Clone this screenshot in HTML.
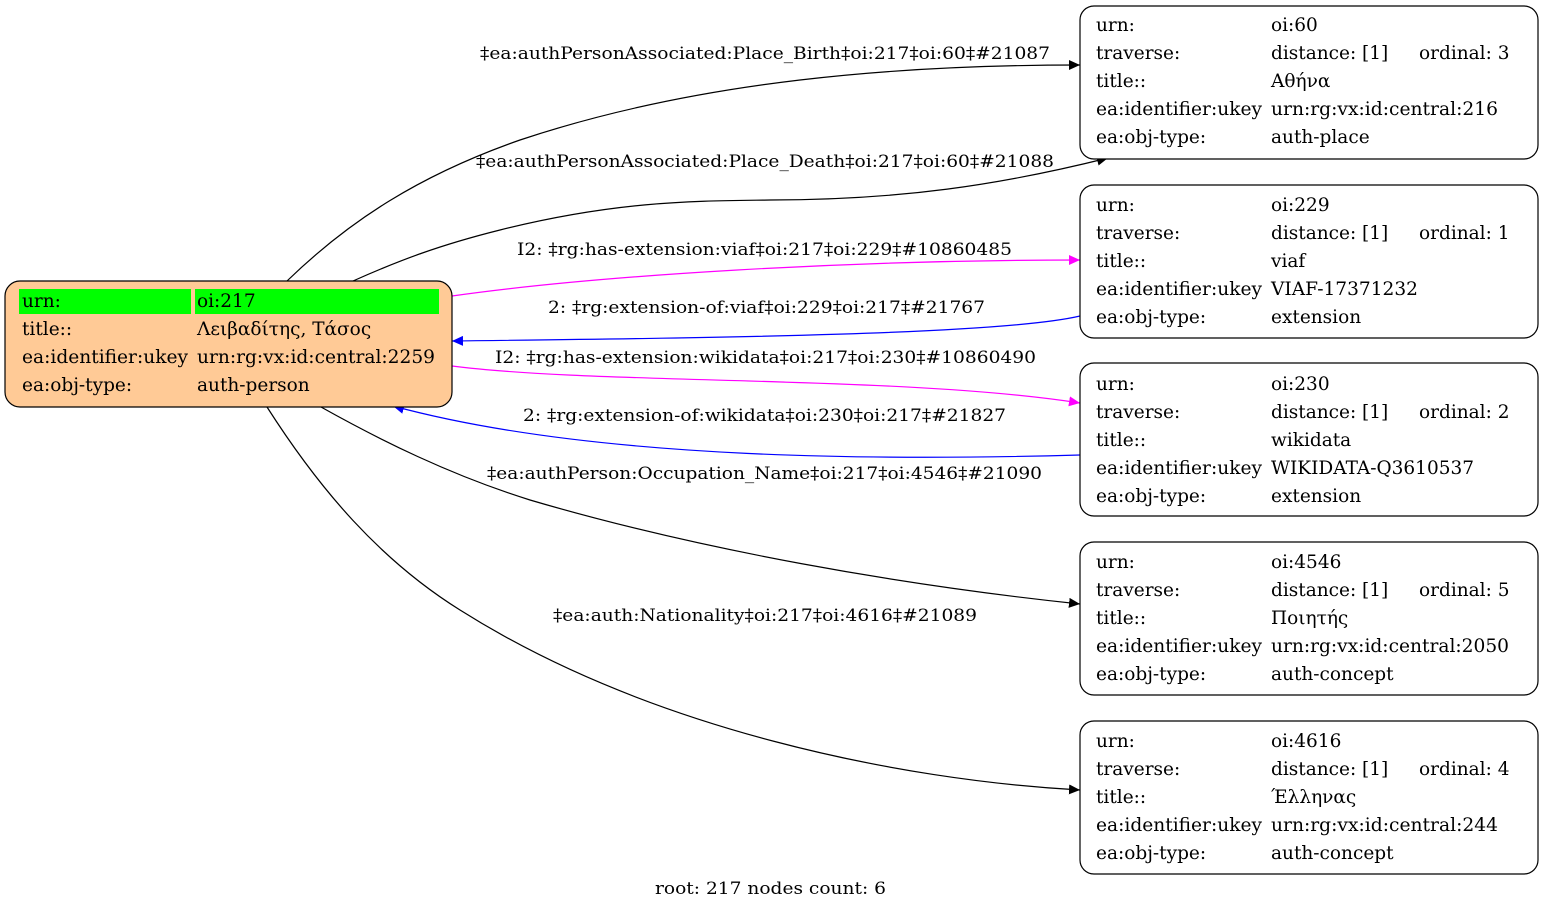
<!DOCTYPE html>
<html><head><meta charset="utf-8"><style>
html,body{margin:0;padding:0;background:#fff;}
svg{display:block;}
text{font-family:"DejaVu Serif","Liberation Serif",serif;font-size:18.5px;fill:#000;}
.e{font-size:17px;}
</style></head><body>
<svg width="1544" height="911" viewBox="0 0 1544 911" xmlns="http://www.w3.org/2000/svg">
<defs>
<marker id="ak" markerWidth="12" markerHeight="10" refX="11" refY="5" orient="auto" markerUnits="userSpaceOnUse"><path d="M0,0 L11,5 L0,10 z" fill="#000"/></marker>
<marker id="am" markerWidth="12" markerHeight="10" refX="11" refY="5" orient="auto" markerUnits="userSpaceOnUse"><path d="M0,0 L11,5 L0,10 z" fill="#f0f"/></marker>
<marker id="ab" markerWidth="12" markerHeight="10" refX="11" refY="5" orient="auto" markerUnits="userSpaceOnUse"><path d="M0,0 L11,5 L0,10 z" fill="#00f"/></marker>
</defs>
<g fill="none" stroke-width="1.2">
<path d="M287,281 C350,220 420,175 520,140 C700,80 900,65 1080,65" stroke="#000" marker-end="url(#ak)"/>
<path d="M353,281 C400,260 440,245 500,230 C620,200 700,201 770,200 C900,200 1000,185 1108,158" stroke="#000" marker-end="url(#ak)"/>
<path d="M452,296 C600,275 850,260 1080,260" stroke="#f0f" marker-end="url(#am)"/>
<path d="M1080,316 C1000,335 700,338 452,341" stroke="#00f" marker-end="url(#ab)"/>
<path d="M452,366 C600,385 900,375 1080,403" stroke="#f0f" marker-end="url(#am)"/>
<path d="M1080,455 C900,460 600,462 393,406" stroke="#00f" marker-end="url(#ab)"/>
<path d="M321,407 C380,440 450,475 530,500 C700,550 900,585 1080,604" stroke="#000" marker-end="url(#ak)"/>
<path d="M267,407 C320,490 380,560 460,610 C650,730 900,780 1080,790" stroke="#000" marker-end="url(#ak)"/>
</g>
<g>
<text class="e" x="480" y="59" textLength="570" lengthAdjust="spacingAndGlyphs">‡ea:authPersonAssociated:Place_Birth‡oi:217‡oi:60‡#21087</text>
<text class="e" x="476" y="167" textLength="578" lengthAdjust="spacingAndGlyphs">‡ea:authPersonAssociated:Place_Death‡oi:217‡oi:60‡#21088</text>
<text class="e" x="517" y="255" textLength="495" lengthAdjust="spacingAndGlyphs">I2: ‡rg:has-extension:viaf‡oi:217‡oi:229‡#10860485</text>
<text class="e" x="548" y="313" textLength="437" lengthAdjust="spacingAndGlyphs">2: ‡rg:extension-of:viaf‡oi:229‡oi:217‡#21767</text>
<text class="e" x="495" y="363" textLength="541" lengthAdjust="spacingAndGlyphs">I2: ‡rg:has-extension:wikidata‡oi:217‡oi:230‡#10860490</text>
<text class="e" x="523" y="421" textLength="483" lengthAdjust="spacingAndGlyphs">2: ‡rg:extension-of:wikidata‡oi:230‡oi:217‡#21827</text>
<text class="e" x="487" y="479" textLength="555" lengthAdjust="spacingAndGlyphs">‡ea:authPerson:Occupation_Name‡oi:217‡oi:4546‡#21090</text>
<text class="e" x="553" y="621" textLength="424" lengthAdjust="spacingAndGlyphs">‡ea:auth:Nationality‡oi:217‡oi:4616‡#21089</text>
<text class="e" x="655" y="894" textLength="231" lengthAdjust="spacingAndGlyphs">root: 217 nodes count: 6</text>
</g>
<rect x="5" y="281" width="447" height="126" rx="15" fill="#ffca96" stroke="#000" stroke-width="1.2"/>
<rect x="19" y="289" width="172" height="25" fill="#0f0"/>
<rect x="195" y="289" width="244" height="25" fill="#0f0"/>
<text x="22" y="307">urn:</text><text x="197" y="307">oi:217</text>
<text x="22" y="335">title::</text><text x="197" y="335">Λειβαδίτης, Τάσος</text>
<text x="22" y="363" textLength="166" lengthAdjust="spacingAndGlyphs">ea:identifier:ukey</text><text x="197" y="363" textLength="238" lengthAdjust="spacingAndGlyphs">urn:rg:vx:id:central:2259</text>
<text x="22" y="391">ea:obj-type:</text><text x="197" y="391">auth-person</text>
<g>
<rect x="1080" y="6" width="458" height="153" rx="14" fill="#fff" stroke="#000" stroke-width="1.2"/>
<text x="1096" y="31">urn:</text><text x="1271" y="31">oi:60</text>
<text x="1096" y="59">traverse:</text><text x="1271" y="59">distance: [1]</text><text x="1419" y="59">ordinal: 3</text>
<text x="1096" y="87">title::</text><text x="1271" y="87">Αθήνα</text>
<text x="1096" y="115" textLength="166" lengthAdjust="spacingAndGlyphs">ea:identifier:ukey</text><text x="1271" y="115" textLength="227" lengthAdjust="spacingAndGlyphs">urn:rg:vx:id:central:216</text>
<text x="1096" y="143">ea:obj-type:</text><text x="1271" y="143">auth-place</text>
</g>
<g>
<rect x="1080" y="185" width="458" height="153" rx="14" fill="#fff" stroke="#000" stroke-width="1.2"/>
<text x="1096" y="211">urn:</text><text x="1271" y="211">oi:229</text>
<text x="1096" y="239">traverse:</text><text x="1271" y="239">distance: [1]</text><text x="1419" y="239">ordinal: 1</text>
<text x="1096" y="267">title::</text><text x="1271" y="267">viaf</text>
<text x="1096" y="295" textLength="166" lengthAdjust="spacingAndGlyphs">ea:identifier:ukey</text><text x="1271" y="295" textLength="147" lengthAdjust="spacingAndGlyphs">VIAF-17371232</text>
<text x="1096" y="323">ea:obj-type:</text><text x="1271" y="323">extension</text>
</g>
<g>
<rect x="1080" y="363" width="458" height="153" rx="14" fill="#fff" stroke="#000" stroke-width="1.2"/>
<text x="1096" y="390">urn:</text><text x="1271" y="390">oi:230</text>
<text x="1096" y="418">traverse:</text><text x="1271" y="418">distance: [1]</text><text x="1419" y="418">ordinal: 2</text>
<text x="1096" y="446">title::</text><text x="1271" y="446">wikidata</text>
<text x="1096" y="474" textLength="166" lengthAdjust="spacingAndGlyphs">ea:identifier:ukey</text><text x="1271" y="474" textLength="203" lengthAdjust="spacingAndGlyphs">WIKIDATA-Q3610537</text>
<text x="1096" y="502">ea:obj-type:</text><text x="1271" y="502">extension</text>
</g>
<g>
<rect x="1080" y="542" width="458" height="153" rx="14" fill="#fff" stroke="#000" stroke-width="1.2"/>
<text x="1096" y="568">urn:</text><text x="1271" y="568">oi:4546</text>
<text x="1096" y="596">traverse:</text><text x="1271" y="596">distance: [1]</text><text x="1419" y="596">ordinal: 5</text>
<text x="1096" y="624">title::</text><text x="1271" y="624">Ποιητής</text>
<text x="1096" y="652" textLength="166" lengthAdjust="spacingAndGlyphs">ea:identifier:ukey</text><text x="1271" y="652" textLength="238" lengthAdjust="spacingAndGlyphs">urn:rg:vx:id:central:2050</text>
<text x="1096" y="680">ea:obj-type:</text><text x="1271" y="680">auth-concept</text>
</g>
<g>
<rect x="1080" y="721" width="458" height="153" rx="14" fill="#fff" stroke="#000" stroke-width="1.2"/>
<text x="1096" y="747">urn:</text><text x="1271" y="747">oi:4616</text>
<text x="1096" y="775">traverse:</text><text x="1271" y="775">distance: [1]</text><text x="1419" y="775">ordinal: 4</text>
<text x="1096" y="803">title::</text><text x="1271" y="803">Έλληνας</text>
<text x="1096" y="831" textLength="166" lengthAdjust="spacingAndGlyphs">ea:identifier:ukey</text><text x="1271" y="831" textLength="227" lengthAdjust="spacingAndGlyphs">urn:rg:vx:id:central:244</text>
<text x="1096" y="859">ea:obj-type:</text><text x="1271" y="859">auth-concept</text>
</g>
</svg>
</body></html>
